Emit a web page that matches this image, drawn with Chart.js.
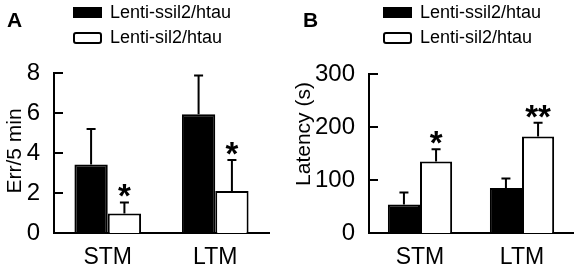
<!DOCTYPE html>
<html>
<head>
<meta charset="utf-8">
<title>Err and latency</title>
<script src="https://cdn.jsdelivr.net/npm/chart.js@4"></script>
<style>
  html, body { margin: 0; padding: 0; background: #fff; }
  #wrap { position: relative; width: 579px; height: 264px; }
  .panel { position: absolute; top: 0; height: 264px; }
  #panelA { left: 0; width: 290px; }
  #panelB { left: 290px; width: 289px; }
</style>
</head>
<body>
<div id="wrap">
  <div class="panel" id="panelA"><canvas id="chartA"></canvas></div>
  <div class="panel" id="panelB"><canvas id="chartB"></canvas></div>
</div>
<script>
// Categories and series
const categories = ['STM', 'LTM'];
const seriesNames = ['Lenti-ssil2/htau', 'Lenti-sil2/htau'];

// Panel A: errors per 5 min (mean, SEM)
const errSsil2 = [3.43, 5.94];
const errSsil2Sem = [1.77, 1.94];
const errSil2 = [0.97, 2.1];
const errSil2Sem = [0.56, 1.55];
const errSig = ['*', '*'];
const errTicks = [0, 2, 4, 6, 8];

// Panel B: latency in seconds (mean, SEM)
const latSsil2 = [54, 85];
const latSsil2Sem = [22.5, 18];
const latSil2 = [135, 182];
const latSil2Sem = [23, 26];
const latSig = ['*', '**'];
const latTicks = [0, 100, 200, 300];

const FONT = "'Liberation Sans', Arial, Helvetica, sans-serif";

// Draws inward ticks, one-sided error bars, stars, legend, panel letter and y title
const panelDecor = {
    id: 'panelDecor',
    afterDatasetsDraw(chart, args, opts) {
        const ctx = chart.ctx;
        const y = chart.scales.y;
        const area = chart.chartArea;
        ctx.save();
        ctx.strokeStyle = '#000';
        ctx.fillStyle = '#000';
        ctx.lineWidth = 2;

        // tick marks pointing into the plot
        y.ticks.forEach((t, i) => {
            const py = y.getPixelForTick(i);
            ctx.beginPath();
            ctx.moveTo(area.left, py);
            ctx.lineTo(area.left + 9, py);
            ctx.stroke();
        });

        chart.data.datasets.forEach((ds, di) => {
            const meta = chart.getDatasetMeta(di);
            meta.data.forEach((bar, i) => {
                const top = y.getPixelForValue(ds.data[i] + ds.sem[i]);
                ctx.beginPath();
                ctx.moveTo(bar.x, bar.y);
                ctx.lineTo(bar.x, top);
                ctx.moveTo(bar.x - 4.5, top);
                ctx.lineTo(bar.x + 4.5, top);
                ctx.stroke();
                if (ds.sig && ds.sig[i]) {
                    ctx.font = 'bold 33px ' + FONT;
                    ctx.textAlign = 'center';
                    ctx.textBaseline = 'alphabetic';
                    ctx.fillText(ds.sig[i], bar.x, top + 5);
                }
            });
        });

        // legend
        ctx.font = '18px ' + FONT;
        ctx.textAlign = 'left';
        ctx.textBaseline = 'middle';
        chart.data.datasets.forEach((ds, di) => {
            const bx = opts.legendX;
            const by = 7 + di * 25;
            if (ds.backgroundColor === '#000') {
                ctx.fillRect(bx, by, 29, 11);
            } else {
                ctx.beginPath();
                ctx.roundRect(bx + 1, by + 1, 27, 10, 2);
                ctx.stroke();
            }
            ctx.fillText(ds.label, bx + 37, by + 6.5);
        });

        // panel letter
        ctx.font = 'bold 21px ' + FONT;
        ctx.textBaseline = 'alphabetic';
        ctx.fillText(opts.letter, opts.letterX, 27);

        // y axis title
        ctx.translate(opts.titleX, opts.titleY);
        ctx.rotate(-Math.PI / 2);
        ctx.font = '21px ' + FONT;
        ctx.textAlign = 'center';
        ctx.textBaseline = 'middle';
        ctx.fillText(opts.title, 0, 0);
        ctx.restore();
    }
};

function makePanel(canvasId, p) {
    const ctx = document.getElementById(canvasId).getContext('2d');
    return new Chart(ctx, {
        type: 'bar',
        data: {
            labels: categories,
            datasets: [
                {
                    label: seriesNames[0],
                    data: p.black,
                    sem: p.blackSem,
                    backgroundColor: '#000',
                    borderColor: '#000',
                    borderWidth: 2
                },
                {
                    label: seriesNames[1],
                    data: p.white,
                    sem: p.whiteSem,
                    sig: p.sig,
                    backgroundColor: '#fff',
                    borderColor: '#000',
                    borderWidth: 2
                }
            ]
        },
        options: {
            responsive: true,
            maintainAspectRatio: false,
            animation: false,
            layout: { padding: { top: p.top, right: p.right, left: 0, bottom: 0 } },
            datasets: {
                bar: { categoryPercentage: p.catPct, barPercentage: 1 }
            },
            plugins: {
                legend: { display: false },
                tooltip: { enabled: false },
                panelDecor: {
                    legendX: p.legendX,
                    letter: p.letter,
                    letterX: p.letterX,
                    title: p.title,
                    titleX: p.titleX,
                    titleY: p.titleY
                }
            },
            scales: {
                x: {
                    grid: { display: false },
                    border: { display: true, color: '#000', width: 2 },
                    ticks: { color: '#000', font: { size: 23, family: FONT }, padding: 3 },
                    afterFit: s => { s.height = 31; }
                },
                y: {
                    min: 0,
                    max: p.ticks[p.ticks.length - 1],
                    afterBuildTicks: s => { s.ticks = p.ticks.map(v => ({ value: v })); },
                    grid: { display: false },
                    border: { display: true, color: '#000', width: 2 },
                    ticks: { color: '#000', font: { size: 24, family: FONT }, padding: 6 },
                    afterFit: s => { s.width = p.axisX; }
                }
            }
        },
        plugins: [panelDecor]
    });
}

makePanel('chartA', {
    black: errSsil2, blackSem: errSsil2Sem,
    white: errSil2, whiteSem: errSil2Sem, sig: errSig,
    ticks: errTicks, top: 73, right: 21, axisX: 54, catPct: 0.62,
    legendX: 73, letter: 'A', letterX: 7,
    title: 'Err/5 min', titleX: 15, titleY: 151
});

makePanel('chartB', {
    black: latSsil2, blackSem: latSsil2Sem,
    white: latSil2, whiteSem: latSil2Sem, sig: latSig,
    ticks: latTicks, top: 74, right: 6, axisX: 79, catPct: 0.63,
    legendX: 93, letter: 'B', letterX: 13,
    title: 'Latency (s)', titleX: 14, titleY: 134
});
</script>
</body>
</html>
